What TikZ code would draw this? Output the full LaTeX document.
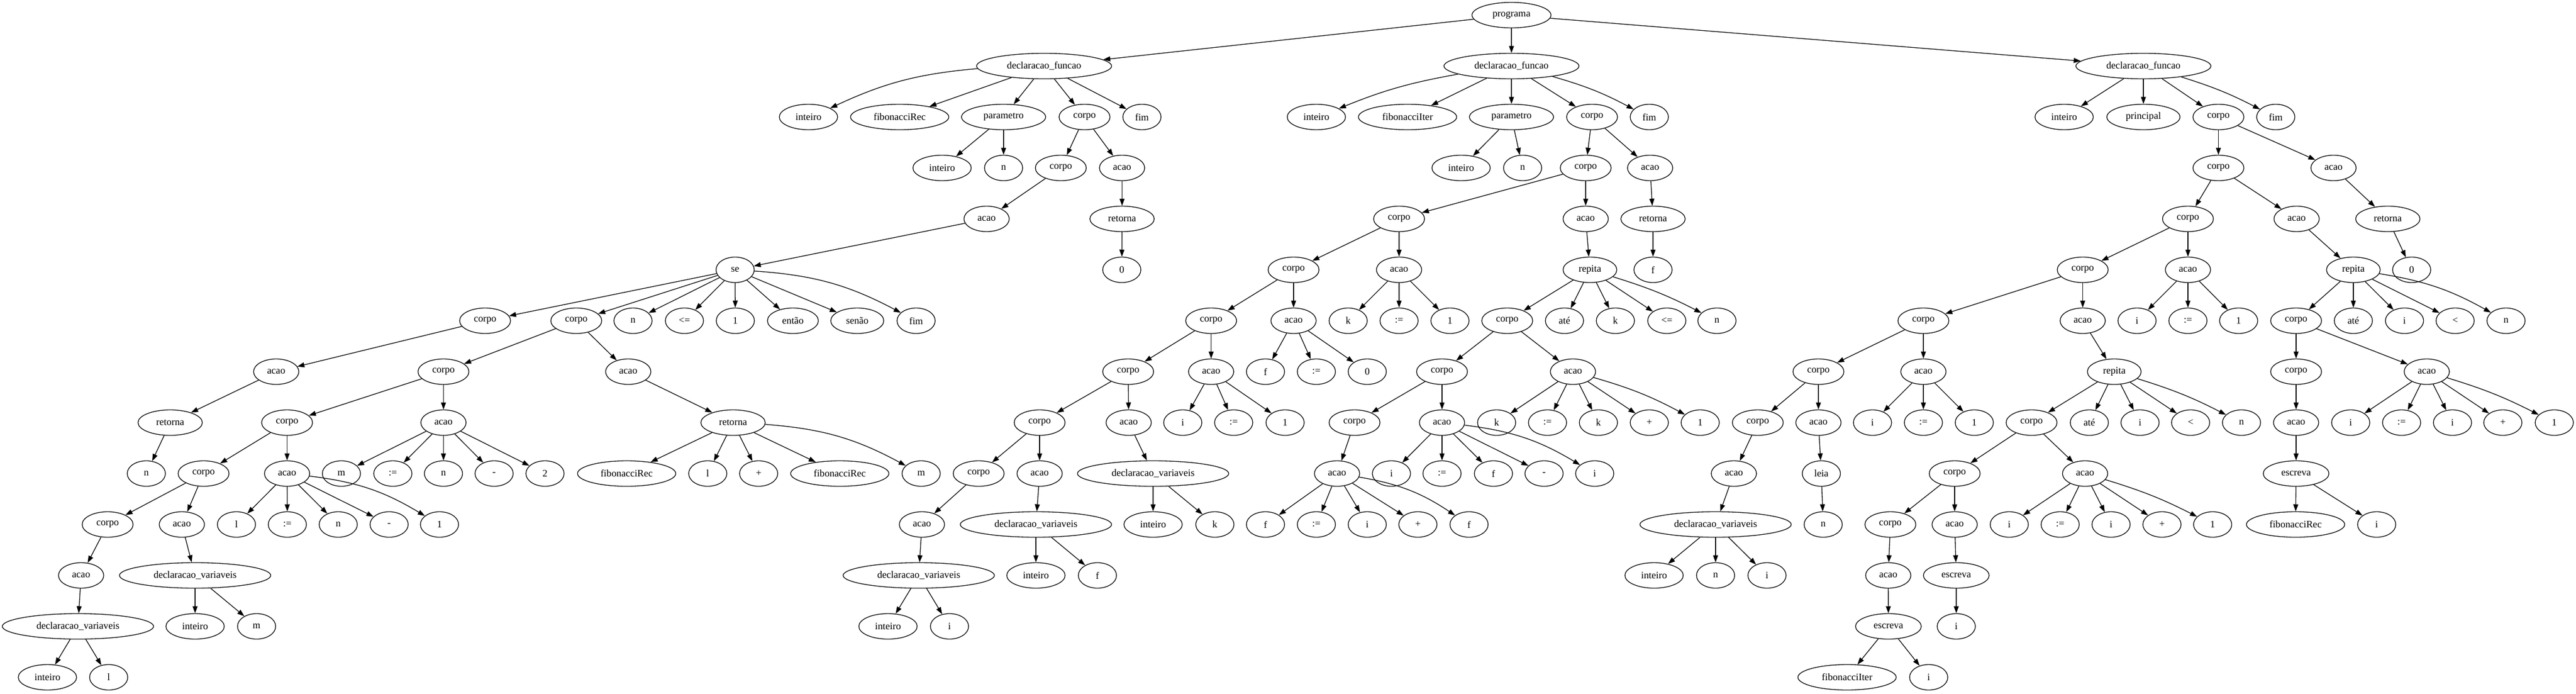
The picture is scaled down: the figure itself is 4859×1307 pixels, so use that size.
\documentclass[tikz,border=0pt]{standalone}
\usepackage{fontspec}
\setmainfont{Liberation Serif}
\usetikzlibrary{arrows.meta,shapes.geometric}
\newcommand\mynode[5][]{\node[nd,#1] (#2) at (#3,{28.5+96*#4}) {#5};}
\begin{document}
\begin{tikzpicture}[x=0.75pt,y=-0.75pt,
  nd/.style={draw,ellipse,line width=1pt,inner sep=0pt,minimum width=54pt,minimum height=36pt,font=\fontsize{14pt}{16pt}\selectfont},
  e/.style={line width=1pt,-{Triangle[length=10pt,width=7pt]}},
  wprog/.style={minimum width=111.75pt},
  wdf/.style={minimum width=191pt},
  wint/.style={minimum width=82.5pt},
  wfib/.style={minimum width=139pt},
  wpar/.style={minimum width=119pt},
  wprin/.style={minimum width=103.5pt},
  wcorpo/.style={minimum width=72pt},
  wacao/.style={minimum width=64pt},
  wret/.style={minimum width=91pt},
  wdv/.style={minimum width=214pt},
  wrep/.style={minimum width=76pt},
  went/.style={minimum width=72pt},
  wsen/.style={minimum width=75pt},
  wesc/.style={minimum width=93pt}]
\useasboundingbox (0,0) rectangle (4859,1307);
% root
\mynode[wprog]{P}{2851}{0}{programa}
\mynode[wdf]{F1}{1969.4}{1}{declaracao\_funcao}
\mynode[wdf]{F2}{2851}{1}{declaracao\_funcao}
\mynode[wdf]{F3}{4043}{1}{declaracao\_funcao}
% ---------- function 1
\mynode[wint]{a1}{1525}{2}{inteiro}
\mynode[wfib]{a2}{1697}{2}{fibonacciRec}
\mynode[wpar]{a3}{1893}{2}{parametro}
\mynode[wcorpo]{a4}{2045.7}{2}{corpo}
\mynode{a5}{2154}{2}{fim}
\mynode[wint]{a6}{1777}{3}{inteiro}
\mynode{a7}{1893}{3}{n}
\mynode[wcorpo]{a8}{2001}{3}{corpo}
\mynode[wacao]{a9}{2116.5}{3}{acao}
\mynode[wacao]{a10}{1861}{4}{acao}
\mynode[wret]{a11}{2116.5}{4}{retorna}
\mynode{a12}{1386.6}{5}{se}
\mynode{a13}{2116}{5}{0}
\mynode[wcorpo]{a14}{915}{6}{corpo}
\mynode[wcorpo]{a15}{1087}{6}{corpo}
\mynode{a16}{1194}{6}{n}
\mynode{a17}{1291}{6}{<=}
\mynode{a18}{1387}{6}{1}
\mynode[went]{a19}{1495.6}{6}{então}
\mynode[wsen]{a20}{1617}{6}{senão}
\mynode{a21}{1728}{6}{fim}
\mynode[wacao]{a22}{521}{7}{acao}
\mynode[wcorpo]{a23}{836.5}{7}{corpo}
\mynode[wacao]{a24}{1185}{7}{acao}
\mynode[wret]{a25}{321}{8}{retorna}
\mynode[wcorpo]{a26}{541.5}{8}{corpo}
\mynode[wacao]{a27}{836.5}{8}{acao}
\mynode[wret]{a28}{1382.7}{8}{retorna}
\mynode{a29}{276}{9}{n}
\mynode[wcorpo]{a30}{384}{9}{corpo}
\mynode[wacao]{a31}{541.5}{9}{acao}
\mynode{a32}{644}{9}{m}
\mynode{a33}{741}{9}{:=}
\mynode{a34}{836.5}{9}{n}
\mynode{a35}{932}{9}{-}
\mynode{a36}{1028}{9}{2}
\mynode[wfib]{a37}{1182}{9}{fibonacciRec}
\mynode{a38}{1335}{9}{l}
\mynode{a39}{1431}{9}{+}
\mynode[wfib]{a40}{1584}{9}{fibonacciRec}
\mynode{a41}{1737.5}{9}{m}
\mynode[wcorpo]{a42}{203}{10}{corpo}
\mynode[wacao]{a43}{343}{10}{acao}
\mynode{a44}{446}{10}{l}
\mynode{a45}{542}{10}{:=}
\mynode{a46}{638}{10}{n}
\mynode{a47}{734}{10}{-}
\mynode{a48}{829}{10}{1}
\mynode[wacao]{a49}{153}{11}{acao}
\mynode[wdv]{a50}{368}{11}{declaracao\_variaveis}
\mynode[wdv]{a51}{147}{12}{declaracao\_variaveis}
\mynode[wint]{a52}{368}{12}{inteiro}
\mynode{a53}{484}{12}{m}
\mynode[wint]{a54}{89.5}{13}{inteiro}
\mynode{a55}{205}{13}{l}
% ---------- function 2
\mynode[wint]{b1}{2483}{2}{inteiro}
\mynode[wfib]{b2}{2655}{2}{fibonacciIter}
\mynode[wpar]{b3}{2851}{2}{parametro}
\mynode[wcorpo]{b4}{3003}{2}{corpo}
\mynode{b5}{3111}{2}{fim}
\mynode[wint]{b6}{2756}{3}{inteiro}
\mynode{b7}{2872}{3}{n}
\mynode[wcorpo]{b8}{2991}{3}{corpo}
\mynode[wacao]{b9}{3112.5}{3}{acao}
\mynode[wcorpo]{b10}{2639}{4}{corpo}
\mynode[wacao]{b11}{2991}{4}{acao}
\mynode[wret]{b12}{3118}{4}{retorna}
\mynode[wcorpo]{b13}{2440}{5}{corpo}
\mynode[wacao]{b14}{2639}{5}{acao}
\mynode[wrep]{b15}{2999}{5}{repita}
\mynode{b16}{3118}{5}{f}
\mynode[wcorpo]{b17}{2284.5}{6}{corpo}
\mynode[wacao]{b18}{2440}{6}{acao}
\mynode{b19}{2543}{6}{k}
\mynode{b20}{2639}{6}{:=}
\mynode{b21}{2735}{6}{1}
\mynode[wcorpo]{b22}{2843}{6}{corpo}
\mynode{b23}{2951}{6}{até}
\mynode{b24}{3047}{6}{k}
\mynode{b25}{3144}{6}{<=}
\mynode{b26}{3238.6}{6}{n}
\mynode[wcorpo]{b27}{2128}{7}{corpo}
\mynode[wacao]{b28}{2284.5}{7}{acao}
\mynode{b29}{2387}{7}{f}
\mynode{b30}{2483}{7}{:=}
\mynode{b31}{2579}{7}{0}
\mynode[wcorpo]{b32}{2720}{7}{corpo}
\mynode[wacao]{b33}{2967}{7}{acao}
\mynode[wcorpo]{b34}{1961}{8}{corpo}
\mynode[wacao]{b35}{2129}{8}{acao}
\mynode{b36}{2231}{8}{i}
\mynode{b37}{2327}{8}{:=}
\mynode{b38}{2424}{8}{1}
\mynode[wcorpo]{b39}{2555}{8}{corpo}
\mynode[wacao]{b40}{2720}{8}{acao}
\mynode{b41}{2823}{8}{k}
\mynode{b42}{2919}{8}{:=}
\mynode{b43}{3015}{8}{k}
\mynode{b44}{3111}{8}{+}
\mynode{b45}{3207}{8}{1}
\mynode[wcorpo]{b46}{1846}{9}{corpo}
\mynode[wacao]{b47}{1961}{9}{acao}
\mynode[wdv]{b48}{2175}{9}{declaracao\_variaveis}
\mynode[wacao]{b49}{2522}{9}{acao}
\mynode{b50}{2624.6}{9}{i}
\mynode{b51}{2720}{9}{:=}
\mynode{b52}{2817}{9}{f}
\mynode{b53}{2912.5}{9}{-}
\mynode{b54}{3008}{9}{i}
\mynode[wacao]{b55}{1739}{10}{acao}
\mynode[wdv]{b56}{1954}{10}{declaracao\_variaveis}
\mynode[wint]{b57}{2175}{10}{inteiro}
\mynode{b58}{2291.5}{10}{k}
\mynode{b59}{2387}{10}{f}
\mynode{b60}{2483}{10}{:=}
\mynode{b61}{2579}{10}{i}
\mynode{b62}{2674.5}{10}{+}
\mynode{b63}{2771}{10}{f}
\mynode[wdv]{b64}{1733}{11}{declaracao\_variaveis}
\mynode[wint]{b65}{1954}{11}{inteiro}
\mynode{b66}{2070}{11}{f}
\mynode[wint]{b67}{1675}{12}{inteiro}
\mynode{b68}{1791}{12}{i}
% ---------- function 3
\mynode[wint]{c1}{3893.5}{2}{inteiro}
\mynode[wprin]{c2}{4043}{2}{principal}
\mynode[wcorpo]{c3}{4184.5}{2}{corpo}
\mynode{c4}{4292.6}{2}{fim}
\mynode[wcorpo]{c5}{4184.5}{3}{corpo}
\mynode[wacao]{c6}{4401.6}{3}{acao}
\mynode[wcorpo]{c7}{4127}{4}{corpo}
\mynode[wacao]{c8}{4332}{4}{acao}
\mynode[wret]{c9}{4504}{4}{retorna}
\mynode[wcorpo]{c10}{3928.5}{5}{corpo}
\mynode[wacao]{c11}{4127}{5}{acao}
\mynode[wrep]{c12}{4439}{5}{repita}
\mynode{c13}{4549}{5}{0}
\mynode[wcorpo]{c14}{3628}{6}{corpo}
\mynode[wacao]{c15}{3928.5}{6}{acao}
\mynode{c16}{4031}{6}{i}
\mynode{c17}{4127}{6}{:=}
\mynode{c18}{4222.6}{6}{1}
\mynode[wcorpo]{c19}{4331}{6}{corpo}
\mynode{c20}{4439}{6}{até}
\mynode{c21}{4535.5}{6}{i}
\mynode{c22}{4631}{6}{<}
\mynode{c23}{4727}{6}{n}
\mynode[wcorpo]{c24}{3430}{7}{corpo}
\mynode[wacao]{c25}{3628}{7}{acao}
\mynode[wrep]{c26}{3988}{7}{repita}
\mynode[wcorpo]{c27}{4331}{7}{corpo}
\mynode[wacao]{c28}{4577.5}{7}{acao}
\mynode[wcorpo]{c29}{3315.6}{8}{corpo}
\mynode[wacao]{c30}{3430}{8}{acao}
\mynode{c31}{3532}{8}{i}
\mynode{c32}{3628}{8}{:=}
\mynode{c33}{3724}{8}{1}
\mynode[wcorpo]{c34}{3832}{8}{corpo}
\mynode{c35}{3941}{8}{até}
\mynode{c36}{4036.6}{8}{i}
\mynode{c37}{4132}{8}{<}
\mynode{c38}{4228}{8}{n}
\mynode[wacao]{c39}{4331}{8}{acao}
\mynode{c40}{4434}{8}{i}
\mynode{c41}{4530}{8}{:=}
\mynode{c42}{4626}{8}{i}
\mynode{c43}{4721}{8}{+}
\mynode{c44}{4818}{8}{1}
\mynode[wacao]{c45}{3270.5}{9}{acao}
\mynode{c46}{3435.5}{9}{leia}
\mynode[wcorpo]{c47}{3687}{9}{corpo}
\mynode[wacao]{c48}{3933}{9}{acao}
\mynode[wesc]{c49}{4331}{9}{escreva}
\mynode[wdv]{c50}{3236}{10}{declaracao\_variaveis}
\mynode{c51}{3439}{10}{n}
\mynode[wcorpo]{c52}{3565.7}{10}{corpo}
\mynode[wacao]{c53}{3687}{10}{acao}
\mynode{c54}{3790}{10}{i}
\mynode{c55}{3886}{10}{:=}
\mynode{c56}{3982}{10}{i}
\mynode{c57}{4078}{10}{+}
\mynode{c58}{4173.6}{10}{1}
\mynode[wfib]{c59}{4330}{10}{fibonacciRec}
\mynode{c60}{4483}{10}{i}
\mynode[wint]{c61}{3120}{11}{inteiro}
\mynode{c62}{3236}{11}{n}
\mynode{c63}{3333}{11}{i}
\mynode[wacao]{c64}{3561.7}{11}{acao}
\mynode[wesc]{c65}{3690}{11}{escreva}
\mynode[wesc]{c66}{3562}{12}{escreva}
\mynode{c67}{3690}{12}{i}
\mynode[wfib]{c68}{3484}{13}{fibonacciIter}
\mynode{c69}{3638}{13}{i}
% ---------- edges
\foreach \p/\cs in {P/{F1,F2,F3},
  F1/{a2,a3,a4,a5}, a3/{a6,a7}, a4/{a8,a9}, a9/{a11}, a11/{a13}, a8/{a10}, a10/{a12},
  a12/{a14,a15,a16,a17,a18,a19,a20}, a14/{a22}, a22/{a25}, a25/{a29}, a15/{a23,a24},
  a24/{a28}, a28/{a37,a38,a39,a40}, a23/{a26,a27}, a27/{a32,a33,a34,a35,a36},
  a26/{a30,a31}, a31/{a44,a45,a46,a47}, a30/{a42,a43}, a43/{a50}, a50/{a52,a53},
  a42/{a49}, a49/{a51}, a51/{a54,a55},
  F2/{b2,b3,b4}, b3/{b6,b7}, b4/{b8,b9}, b9/{b12}, b12/{b16}, b8/{b10,b11}, b11/{b15},
  b15/{b22,b23,b24,b25}, b10/{b13,b14}, b14/{b19,b20,b21}, b13/{b17,b18},
  b18/{b29,b30,b31}, b17/{b27,b28}, b28/{b36,b37,b38}, b27/{b34,b35}, b35/{b48},
  b48/{b57,b58}, b34/{b46,b47}, b47/{b56}, b56/{b65,b66}, b46/{b55}, b55/{b64},
  b64/{b67,b68}, b22/{b32,b33}, b33/{b41,b42,b43,b44}, b32/{b39,b40},
  b40/{b50,b51,b52,b53}, b39/{b49}, b49/{b59,b60,b61,b62},
  F3/{c1,c2,c3}, c3/{c5,c6}, c6/{c9}, c9/{c13}, c5/{c7,c8}, c8/{c12},
  c12/{c19,c20,c21,c22}, c19/{c27,c28}, c28/{c40,c41,c42,c43}, c27/{c39}, c39/{c49},
  c49/{c59,c60}, c7/{c10,c11}, c11/{c16,c17,c18}, c10/{c14,c15}, c15/{c26},
  c26/{c34,c35,c36,c37}, c34/{c47,c48}, c48/{c54,c55,c56,c57}, c47/{c52,c53},
  c53/{c65}, c65/{c67}, c52/{c64}, c64/{c66}, c66/{c68,c69}, c14/{c24,c25},
  c25/{c31,c32,c33}, c24/{c29,c30}, c30/{c46}, c46/{c51}, c29/{c45}, c45/{c50},
  c50/{c61,c62,c63}}
  {\foreach \c in \cs {\draw[e] (\p) -- (\c);}}
% curved edges
\draw[e] (F1) to[bend right=10] (a1);
\draw[e] (a12) to[bend left=12] (a21);
\draw[e] (a28) to[bend left=12] (a41);
\draw[e] (a31) to[bend left=12] (a48);
\draw[e] (F2) to[bend right=6] (b1);
\draw[e] (F2) to[bend left=6] (b5);
\draw[e] (b15) to[bend left=5] (b26);
\draw[e] (b33) to[bend left=6] (b45);
\draw[e] (b40) to[bend left=12] (b54);
\draw[e] (b49) to[bend left=12] (b63);
\draw[e] (F3) to[bend left=5] (c4);
\draw[e] (c12) to[bend left=10] (c23);
\draw[e] (c26) to[bend left=5] (c38);
\draw[e] (c48) to[bend left=5] (c58);
\draw[e] (c28) to[bend left=5] (c44);
\end{tikzpicture}
\end{document}
